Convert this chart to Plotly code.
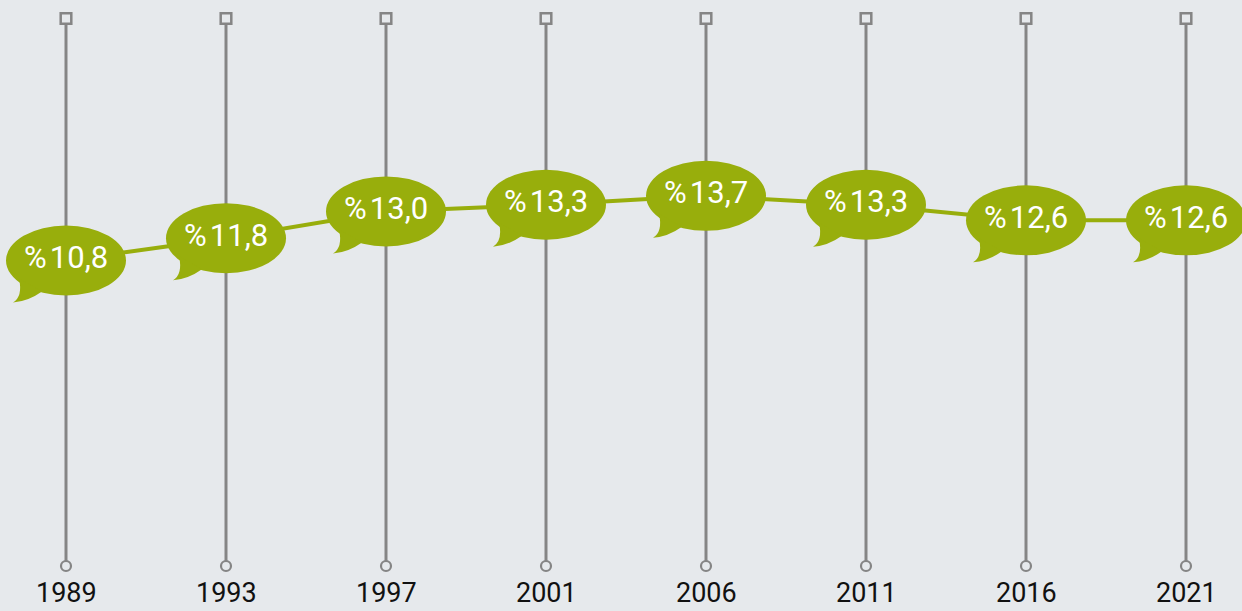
import plotly.graph_objects as go

years = ["1989", "1993", "1997", "2001", "2006", "2011", "2016", "2021"]
values = [10.8, 11.8, 13.0, 13.3, 13.7, 13.3, 12.6, 12.6]
labels = ["%\u200a10,8", "%\u200a11,8", "%\u200a13,0", "%\u200a13,3",
          "%\u200a13,7", "%\u200a13,3", "%\u200a12,6", "%\u200a12,6"]

GREEN = "#98AE0C"
GRAY = "#858585"
BG = "#E6E9EC"

xs = list(range(len(years)))

fig = go.Figure()
fig.add_trace(go.Scatter(x=xs, y=values, mode="lines",
                         line=dict(color=GREEN, width=4), hoverinfo="skip"))

shapes = []
annotations = []
top_y = 1 - 18.5 / 611
bot_y = 1 - 566 / 611
for i, (yr, v, lab) in enumerate(zip(years, values, labels)):
    shapes.append(dict(type="line", xref="x", yref="paper", x0=i, x1=i, y0=bot_y, y1=top_y,
                       line=dict(color=GRAY, width=3), layer="below"))
    shapes.append(dict(type="rect", xref="x", yref="paper", xsizemode="pixel", ysizemode="pixel",
                       xanchor=i, yanchor=top_y, x0=-5.3, x1=5.3, y0=-5.3, y1=5.3,
                       fillcolor=BG, line=dict(color=GRAY, width=2.5), layer="above"))
    shapes.append(dict(type="circle", xref="x", yref="paper", xsizemode="pixel", ysizemode="pixel",
                       xanchor=i, yanchor=bot_y, x0=-5, x1=5, y0=-5, y1=5,
                       fillcolor=BG, line=dict(color=GRAY, width=2.2), layer="above"))
    shapes.append(dict(type="circle", xref="x", yref="y", xsizemode="pixel", ysizemode="pixel",
                       xanchor=i, yanchor=v, x0=-60, x1=60, y0=-35, y1=35,
                       fillcolor=GREEN, line=dict(width=0), layer="above"))
    shapes.append(dict(type="path", xref="x", yref="y", xsizemode="pixel", ysizemode="pixel",
                       xanchor=i, yanchor=v,
                       path="M -47,-18 Q -43,-36 -53,-42 Q -38,-41 -24,-31 Z",
                       fillcolor=GREEN, line=dict(width=0), layer="above"))
    annotations.append(dict(x=i, y=v, xref="x", yref="y", text=lab, showarrow=False,
                            xanchor="center", yanchor="middle",
                            yshift=3, font=dict(family="Roboto", size=31, color="white")))
    annotations.append(dict(x=i, y=1 - 593 / 611, xref="x", yref="paper", text=yr, showarrow=False,
                            xanchor="center", yanchor="middle", borderpad=0,
                            font=dict(family="Roboto", size=27, color="#111111")))

y_top = 12.6375 + 219.5 / 22.3
y_bot = 12.6375 - (611 - 219.5) / 22.3
x_lo = -66 / 160
x_hi = (1242 - 66) / 160

fig.update_layout(
    width=1242, height=611,
    margin=dict(l=0, r=0, t=0, b=0),
    paper_bgcolor=BG, plot_bgcolor=BG,
    showlegend=False,
    xaxis=dict(range=[x_lo, x_hi], visible=False, fixedrange=True),
    yaxis=dict(range=[y_bot, y_top], visible=False, fixedrange=True),
    shapes=shapes, annotations=annotations,
)
fig.write_html("out.html", config={"displayModeBar": False},
               post_script="document.body.style.margin='0';document.body.style.overflow='hidden';document.body.style.background='%s';" % BG)
